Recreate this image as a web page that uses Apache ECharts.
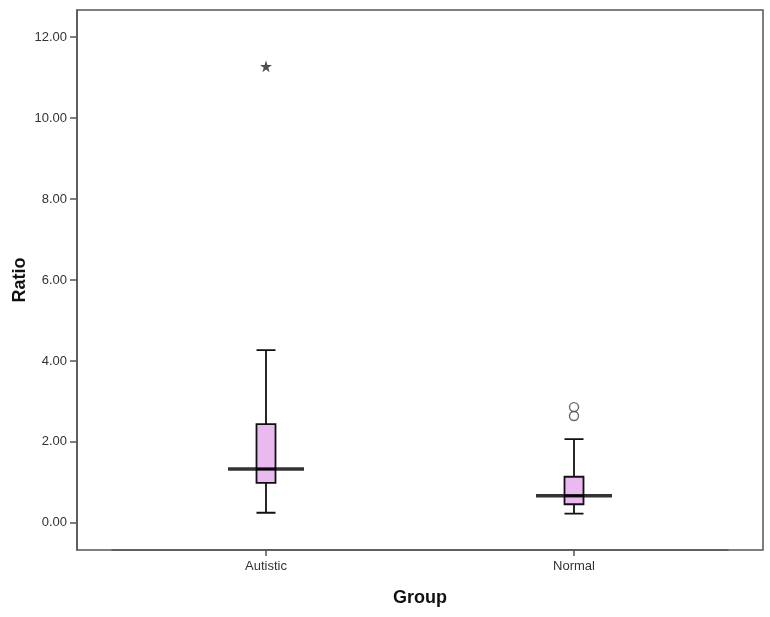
<!DOCTYPE html>
<html>
<head>
<meta charset="utf-8">
<script src="https://cdn.jsdelivr.net/npm/echarts@6/dist/echarts.min.js"></script>
<style>html,body{margin:0;padding:0;background:#fff}#c{width:770px;height:617px}</style>
</head>
<body>
<div id="c"></div>
<script>
const categories = ['Autistic', 'Normal'];
// [low whisker, Q1, median, Q3, high whisker]
const autisticBox = [0.25, 0.99, 1.33, 2.44, 4.27];
const normalBox = [0.23, 0.46, 0.67, 1.14, 2.07];
const extremeOutliers = [[0, 11.28]];
const mildOutliers = [[1, 2.86], [1, 2.64]];
const yTicks = [0, 2, 4, 6, 8, 10, 12];
const yMin = -0.67, yMax = 12.67;

const boxData = [autisticBox, normalBox];
const medians = boxData.map((b, i) => [i, b[2]]);

const chart = echarts.init(document.getElementById('c'), null, {renderer: 'canvas'});
const font = 'Arial, "Liberation Sans", sans-serif';
chart.setOption({
  animation: false,
  backgroundColor: '#fff',
  grid: [
    {left: 77, top: 10, right: 7, bottom: 67, containLabel: false, outerBoundsMode: 'none',
     show: true, borderColor: '#555', borderWidth: 1.5, backgroundColor: '#fff'},
    {left: 112, top: 10, width: 616, bottom: 67, containLabel: false, outerBoundsMode: 'none'}
  ],
  xAxis: [
    {gridIndex: 0, type: 'category', data: [], name: 'Group', nameLocation: 'middle', nameGap: 39,
     nameTextStyle: {fontFamily: font, fontSize: 18, fontWeight: 'bold', color: '#111'},
     axisLine: {show: false}, axisTick: {show: false}, axisLabel: {show: false}, splitLine: {show: false}},
    {gridIndex: 1, type: 'category', data: categories,
     axisLine: {show: true, onZero: false, lineStyle: {color: '#555', width: 1.5}},
     axisTick: {show: true, alignWithLabel: true, length: 6, lineStyle: {color: '#555', width: 1.5}},
     axisLabel: {margin: 10, fontFamily: font, fontSize: 13, color: '#333'},
     splitLine: {show: false}}
  ],
  yAxis: [
    {gridIndex: 0, type: 'value', min: yMin, max: yMax, name: 'Ratio', nameLocation: 'middle', nameGap: 48,
     nameMoveOverlap: false,
     nameTextStyle: {fontFamily: font, fontSize: 18, fontWeight: 'bold', color: '#111'},
     axisLine: {show: true, lineStyle: {color: '#555', width: 1.5}},
     axisTick: {show: true, length: 7, customValues: yTicks, lineStyle: {color: '#555', width: 1.5}},
     axisLabel: {customValues: yTicks, margin: 10, fontFamily: font, fontSize: 13, color: '#333',
                 formatter: v => v.toFixed(2)},
     splitLine: {show: false}},
    {gridIndex: 1, type: 'value', min: yMin, max: yMax, show: false, splitLine: {show: false}}
  ],
  series: [
    {type: 'boxplot', xAxisIndex: 1, yAxisIndex: 1, data: boxData, boxWidth: [19, 19],
     itemStyle: {color: '#eab9f0', borderColor: '#111', borderWidth: 1.8}, z: 2},
    {type: 'scatter', xAxisIndex: 1, yAxisIndex: 1, data: medians, symbol: 'rect', symbolSize: [76, 3.5],
     itemStyle: {color: '#000'}, z: 4},
    {type: 'scatter', xAxisIndex: 1, yAxisIndex: 1, data: extremeOutliers,
     symbol: 'path://M50,0 L61,35 L98,35 L68,57 L79,91 L50,70 L21,91 L32,57 L2,35 L39,35 Z',
     symbolSize: 12, itemStyle: {color: '#222'}, z: 4},
    {type: 'scatter', xAxisIndex: 1, yAxisIndex: 1, data: mildOutliers, symbol: 'circle', symbolSize: 9,
     itemStyle: {color: '#fff', borderColor: '#444', borderWidth: 1.4}, z: 4}
  ]
});
</script>
</body>
</html>
